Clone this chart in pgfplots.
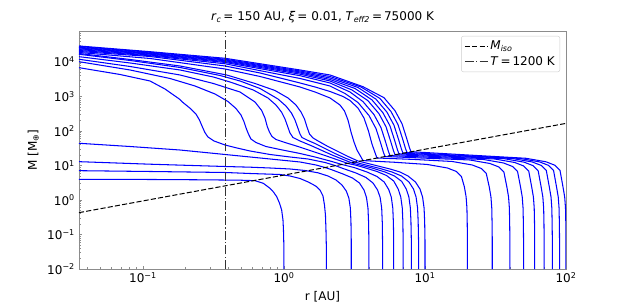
\documentclass[border=0pt]{standalone}
\usepackage{fontspec}
\setmainfont{DejaVu Sans}
\usepackage{pgfplots}
\pgfplotsset{compat=1.18}
\pgfplotsset{cv/.style={color={rgb,255:red,0;green,0;blue,255}, line width=1.05pt, line join=round, forget plot}}
\newcommand{\fs}{\fontsize{12}{14.4}\selectfont}
\begin{document}
\begin{tikzpicture}
\useasboundingbox (-79pt,-34pt) rectangle (543pt,269pt);
\begin{axis}[
  at={(0pt,0pt)}, anchor=south west,
  scale only axis, width=487pt, height=238pt,
  xmode=log, ymode=log,
  xmin=0.0352, xmax=100, ymin=0.01, ymax=79000,
  xtick={0.1,1,10,100},
  xticklabels={10\textsuperscript{−1},10\textsuperscript{0},10\textsuperscript{1},10\textsuperscript{2}},
  ytick={0.01,0.1,1,10,100,1000,10000},
  yticklabels={10\textsuperscript{−2},10\textsuperscript{−1},10\textsuperscript{0},10\textsuperscript{1},10\textsuperscript{2},10\textsuperscript{3},10\textsuperscript{4}},
  minor xtick={0.04,0.05,0.06,0.07,0.08,0.09,0.2,0.3,0.4,0.5,0.6,0.7,0.8,0.9,2,3,4,5,6,7,8,9,20,30,40,50,60,70,80,90},
  minor ytick={0.02,0.03,0.04,0.05,0.06,0.07,0.08,0.09,0.2,0.3,0.4,0.5,0.6,0.7,0.8,0.9,2,3,4,5,6,7,8,9,20,30,40,50,60,70,80,90,200,300,400,500,600,700,800,900,2000,3000,4000,5000,6000,7000,8000,9000,20000,30000,40000,50000,60000,70000},
  tick align=inside, tick pos=left,
  major tick length=3.5pt, minor tick length=2pt,
  tick style={black!45, line width=0.6pt},
  axis line style={black!45, line width=0.8pt},
  xticklabel style={inner sep=0pt, yshift=-3pt, font=\fs},
  yticklabel style={inner sep=0pt, xshift=-4pt, font=\fs},
  xlabel={r [AU]}, ylabel={M [M\textsubscript{⊕}]},
  every axis x label/.style={at={(axis description cs:0.5,-0.115)}, anchor=center, font=\fs},
  every axis y label/.style={at={(axis description cs:-0.094,0.5)}, anchor=center, rotate=90, font=\fs},
  title={\textit{r}\textsubscript{\textit{c}}\,=\ 150 AU, \textit{ξ}\,=\ 0.01, \textit{T}\textsubscript{\textit{eff2}}\,=\,75000 K},
  title style={at={(axis description cs:0.5,1)}, anchor=base, yshift=4pt, font=\fs},
  legend style={at={(1,1)}, anchor=north east, xshift=-6pt, yshift=-5pt, draw=black!20, rounded corners=2pt, fill=white, fill opacity=0.8, text opacity=1, font=\fs, inner xsep=3pt, inner ysep=3pt, row sep=1pt},
  legend cell align=left,
  legend image code/.code={\draw[#1] (0pt,0pt) -- (23pt,0pt);},
]
% r0 = 1
\addplot[cv] coordinates {(1,0.01)(1,0.0355)(0.992,0.135)(0.984,0.263)(0.963,0.513)(0.929,0.819)(0.888,1.25)(0.842,1.71)(0.796,2.18)(0.713,3.05)(0.623,3.63)(0.487,3.75)(0.254,3.85)(0.112,3.93)(0.0352,3.98)};
% r0 = 2
\addplot[cv] coordinates {(2,0.01)(2,0.0355)(1.986,0.135)(1.969,0.367)(1.938,0.716)(1.891,1.31)(1.800,1.95)(1.706,2.43)(1.606,2.81)(1.487,3.32)(1.299,4.20)(1.103,4.96)(0.937,5.48)(0.574,5.86)(0.382,6.27)(0.112,6.70)(0.0352,7.07)};
% r0 = 3
\addplot[cv] coordinates {(3,0.01)(3,0.0693)(2.986,0.230)(2.957,0.586)(2.886,1.14)(2.766,1.82)(2.578,2.72)(2.338,3.80)(2.051,4.96)(1.742,6.14)(1.409,7.16)(1.103,7.92)(0.796,8.46)(0.574,8.93)(0.382,9.35)(0.112,10.9)(0.0352,12.9)};
% r0 = 4
\addplot[cv] coordinates {(4,0.01)(4,0.0693)(3.981,0.230)(3.942,0.586)(3.847,1.18)(3.693,1.95)(3.431,3.11)(3.061,4.34)(2.621,5.67)(2.154,7.66)(1.953,8.75)(1.686,10.34)(1.299,12.63)(0.937,14.43)(0.574,17.64)(0.382,20.84)(0.183,28.1)(0.0809,35.5)(0.0352,44.0)};
% r0 = 5
\addplot[cv] coordinates {(5,0.01)(5,0.0693)(4.979,0.230)(4.931,0.586)(4.811,1.18)(4.611,1.95)(4.278,3.11)(3.816,4.49)(3.241,6.06)(2.621,8.19)(2.300,10.0)(1.953,12.22)(1.480,15.43)(1.103,17.64)(0.796,20.84)(0.574,26.33)(0.449,33.2)(0.382,39.3)(0.319,51.3)(0.289,67.0)(0.275,90.5)(0.264,131)(0.2516,208)(0.2376,311)(0.2190,434)(0.1922,670)(0.1830,819)(0.1432,1650)(0.1121,2814)(0.0687,4342)(0.0352,6835)};
% r0 = 6
\addplot[cv] coordinates {(6,0.01)(6,0.0693)(5.969,0.230)(5.911,0.586)(5.768,1.22)(5.528,2.02)(5.136,3.32)(4.566,4.80)(3.878,6.48)(3.137,8.75)(2.578,10.69)(2.120,13.50)(1.660,17.64)(1.299,22.28)(0.937,29.09)(0.745,35.5)(0.633,46.4)(0.583,58.6)(0.560,81.9)(0.542,114)(0.520,189)(0.4955,291)(0.4567,449)(0.4007,716)(0.3241,1182)(0.2338,2015)(0.1554,3325)(0.0809,5864)(0.0352,10200)};
% r0 = 7
\addplot[cv] coordinates {(7,0.01)(7,0.0693)(6.971,0.230)(6.903,0.586)(6.735,1.22)(6.455,2.08)(6.0,3.55)(5.333,5.13)(4.566,6.70)(3.693,8.75)(3.188,10.34)(2.844,11.43)(2.415,14.43)(1.953,19.49)(1.529,27.2)(1.257,35.5)(1.0165,46.4)(0.8775,56.7)(0.8221,69.3)(0.7891,93.5)(0.7613,135)(0.7333,238)(0.6948,393)(0.6229,693)(0.4874,1350)(0.3152,2382)(0.1830,4200)(0.0809,7406)(0.0352,11970)};
% r0 = 8
\addplot[cv] coordinates {(8,0.01)(8,0.0693)(7.956,0.230)(7.879,0.586)(7.688,1.22)(7.368,2.08)(6.846,3.44)(6.077,4.96)(5.204,6.48)(4.208,8.46)(3.459,10.34)(3.036,11.82)(2.578,15.43)(2.190,20.15)(1.860,27.2)(1.580,36.7)(1.299,51.3)(1.158,64.8)(1.103,87.5)(1.059,140)(1.0165,223)(0.960,355)(0.8775,567)(0.770,905)(0.6057,1543)(0.4140,2633)(0.3152,3674)(0.1830,5864)(0.0809,9355)(0.0352,14250)};
% r0 = 9
\addplot[cv] coordinates {(9,0.01)(9,0.0693)(8.949,0.230)(8.862,0.586)(8.647,1.22)(8.288,2.08)(7.701,3.32)(6.813,4.96)(5.834,6.48)(4.796,8.19)(3.942,10.0)(3.459,11.43)(3.188,12.63)(2.708,16.50)(2.300,22.28)(1.953,31.1)(1.660,43.4)(1.456,54.8)(1.342,64.8)(1.299,81.9)(1.247,131)(1.197,208)(1.130,332)(1.033,530)(0.9066,846)(0.6758,1706)(0.4874,2814)(0.3517,4062)(0.1830,6928)(0.0809,11050)(0.0352,16720)};
% r0 = 10
\addplot[cv] coordinates {(10,0.01)(10,0.0693)(9.951,0.230)(9.854,0.586)(9.616,1.22)(9.216,2.08)(8.563,3.32)(7.576,4.96)(6.648,6.48)(5.646,7.92)(4.642,9.67)(3.816,11.82)(3.348,13.50)(2.844,18.23)(2.415,25.46)(2.051,35.5)(1.771,49.6)(1.606,62.7)(1.517,81.9)(1.456,131)(1.398,223)(1.320,355)(1.2165,567)(1.0675,905)(0.8633,1492)(0.6229,2382)(0.3923,4200)(0.1830,7656)(0.0809,11815)(0.0352,17640)};
% r0 = 20
\addplot[cv] coordinates {(20,0.01)(20,0.0693)(19.93,0.230)(19.84,0.586)(19.58,1.22)(19.04,2.38)(18.13,4.80)(16.71,6.70)(14.42,8.46)(10.40,10.69)(6.127,12.38)(3.633,13.87)(3.516,17.64)(3.294,28.14)(3.137,48.0)(2.987,93.5)(2.844,208)(2.686,380)(2.496,567)(2.120,905)(1.660,1350)(1.299,1886)(0.676,3800)(0.382,6268)(0.1121,12630)(0.0352,18860)};
% r0 = 30
\addplot[cv] coordinates {(30,0.01)(30,0.0693)(29.90,0.230)(29.76,0.586)(29.37,1.22)(28.57,2.38)(27.20,5.86)(25.07,8.19)(21.63,10.34)(15.60,13.06)(8.493,14.93)(4.566,16.50)(4.456,21.54)(4.208,42.0)(3.975,100)(3.693,238)(3.348,464)(2.938,766)(2.621,1000)(2.120,1396)(1.660,1886)(1.299,2462)(0.676,4799)(0.382,7656)(0.1121,14430)(0.0352,20150)};
% r0 = 40
\addplot[cv] coordinates {(40,0.01)(40,0.0693)(39.87,0.230)(39.67,0.586)(39.16,1.22)(38.09,2.38)(36.27,6.48)(33.42,9.05)(28.85,11.43)(20.80,14.43)(10.50,16.17)(5.204,18.23)(5.078,23.81)(4.835,46.4)(4.492,118)(4.007,281)(3.348,670)(2.708,1222)(2.120,2015)(1.299,3325)(0.382,8867)(0.1121,15230)(0.0352,21540)};
% r0 = 50
\addplot[cv] coordinates {(50,0.01)(50,0.0693)(49.84,0.230)(49.59,0.586)(48.95,1.22)(47.61,2.38)(45.33,6.70)(41.78,9.35)(36.06,11.82)(26.00,14.93)(12.16,16.94)(5.646,19.36)(5.510,25.28)(5.246,49.3)(4.875,125.5)(4.348,299)(3.633,712)(2.938,1350)(2.120,2462)(1.299,4008)(0.382,9672)(0.1121,15950)(0.0352,22880)};
% r0 = 60
\addplot[cv] coordinates {(60,0.01)(60,0.0693)(59.80,0.230)(59.51,0.586)(58.74,1.22)(57.13,2.38)(54.40,6.93)(50.13,9.67)(43.27,12.22)(31.20,15.43)(13.87,17.64)(6.127,20.56)(5.979,26.85)(5.693,52.3)(5.289,133)(4.718,317)(3.942,755)(3.036,1543)(2.120,2814)(1.299,4430)(0.382,10270)(0.1121,16830)(0.0352,24130)};
% r0 = 70
\addplot[cv] coordinates {(70,0.01)(70,0.0693)(69.77,0.230)(69.43,0.586)(68.53,1.22)(66.65,2.38)(63.47,7.07)(58.49,9.87)(50.48,12.47)(36.40,15.74)(15.54,18.36)(6.540,21.69)(6.382,28.3)(6.077,55.2)(5.646,140.6)(5.037,335)(4.208,797)(3.188,1706)(2.120,3110)(1.299,4799)(0.382,10830)(0.1121,17520)(0.0352,25460)};
% r0 = 80
\addplot[cv] coordinates {(80,0.01)(80,0.0693)(79.74,0.230)(79.35,0.586)(78.32,1.22)(76.18,2.38)(72.53,7.16)(66.84,10.0)(57.69,12.63)(41.60,15.96)(17.14,18.97)(6.982,22.72)(6.813,29.7)(6.487,57.9)(6.028,147)(5.376,351)(4.492,835)(3.348,1824)(2.120,3437)(1.299,5131)(0.382,11430)(0.1121,18230)(0.0352,26670)};
% r0 = 90
\addplot[cv] coordinates {(90,0.01)(90,0.0693)(89.71,0.230)(89.27,0.586)(88.11,1.22)(85.70,2.38)(81.60,7.21)(75.20,10.07)(64.90,12.72)(46.80,16.06)(18.60,19.49)(7.453,23.81)(7.273,31.1)(6.925,60.6)(6.434,154)(5.739,367)(4.796,875)(3.516,1886)(2.120,3800)(1.299,5485)(0.382,12050)(0.1121,19110)(0.0352,27950)};
% r0 = 100
\addplot[cv] coordinates {(100,0.01)(100,0.0693)(99.67,0.230)(99.19,0.586)(97.90,1.22)(95.22,2.38)(90.66,7.26)(83.55,10.13)(72.11,12.80)(52.00,16.17)(20.18,20.15)(7.956,25.12)(7.764,32.8)(7.393,63.9)(6.869,163)(6.127,388)(5.119,923)(3.633,1924)(2.120,4200)(1.299,5864)(0.382,12800)(0.1121,19890)(0.0352,29090)};
% isolation mass
\addplot[black, line width=1pt, dash pattern=on 5.1pt off 2.2pt] coordinates {(0.0352,0.43)(100,166)};
\addlegendentry{\textit{M}\textsubscript{\textit{iso}}}
% T = 1200 K
\addplot[black!80, line width=1pt, dash pattern=on 8.9pt off 2.2pt on 1.4pt off 2.2pt] coordinates {(0.382,0.01)(0.382,79000)};
\addlegendentry{\textit{T}\,=\,1200 K}
\end{axis}
\end{tikzpicture}
\end{document}
